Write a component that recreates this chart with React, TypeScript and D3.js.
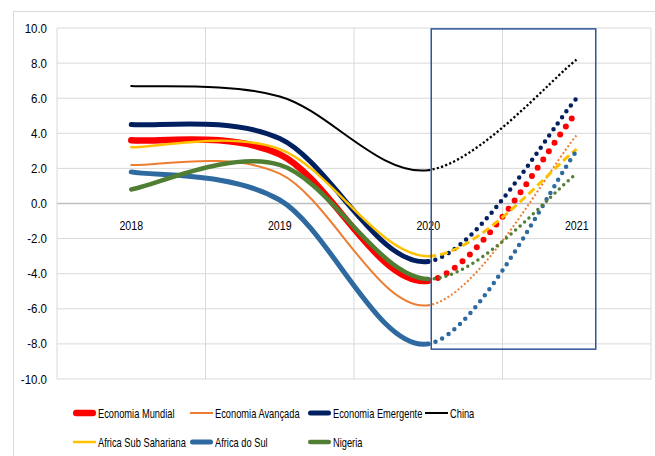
import React from 'react';
import * as d3 from 'd3';

// categories and values (% growth)
const years = ['2018', '2019', '2020', '2021'];
const yTicks = [-10, -8, -6, -4, -2, 0, 2, 4, 6, 8, 10];

const economiaMundial = [3.6, 2.8, -4.4, 5.2];
const economiaAvancada = [2.2, 1.7, -5.8, 3.9];
const economiaEmergente = [4.5, 3.7, -3.3, 6.0];
const china = [6.7, 6.1, 1.9, 8.2];
const africaSubSahariana = [3.2, 3.1, -3.0, 3.1];
const africaDoSul = [1.8, 0.2, -8.0, 3.0];
const nigeria = [0.8, 2.2, -4.3, 1.7];

const seriesNames = [
  'Economia Mundial',
  'Economia Avançada',
  'Economia Emergente',
  'China',
  'Africa Sub Sahariana',
  'Africa do Sul',
  'Nigeria',
];
const seriesValues = [
  economiaMundial,
  economiaAvancada,
  economiaEmergente,
  china,
  africaSubSahariana,
  africaDoSul,
  nigeria,
];

// line styles: solid part, then the projected (dotted) part
const styles = [
  { color: '#FF0000', width: 6.5, dotWidth: 6, dash: '0 10', cap: 'round' },
  { color: '#ED7D31', width: 2, dotWidth: 2, dash: '2 2.2', cap: 'butt' },
  { color: '#002060', width: 5, dotWidth: 4.5, dash: '0 7.4', cap: 'round' },
  { color: '#000000', width: 2, dotWidth: 2.3, dash: '2.2 2.2', cap: 'butt' },
  { color: '#FFC000', width: 2.5, dotWidth: 3, dash: '8 4', cap: 'butt' },
  { color: '#2E6AA0', width: 5, dotWidth: 4.5, dash: '0 7.6', cap: 'round' },
  { color: '#507E32', width: 4.5, dotWidth: 3.5, dash: '0 6', cap: 'round' },
];

const W = 655;
const H = 456;
const FONT = "'Liberation Sans', Arial, sans-serif";

const x = d3.scaleBand<string>().domain(years).range([57, 651]);
const cx = (yr: string) => (x(yr) as number) + x.bandwidth() / 2;
const y = d3.scaleLinear().domain([-10, 10]).range([379, 28]);

type Pt = [number, number];

// cardinal (tension 0) bezier pieces, same control points as d3.curveCardinal,
// split so the 2020-2021 piece can be styled on its own
function segPath(pts: Pt[], from: number, to: number) {
  const n = pts.length;
  const at = (i: number) => pts[Math.max(0, Math.min(n - 1, i))];
  const p = d3.path();
  p.moveTo(pts[from][0], pts[from][1]);
  for (let i = from; i < to; i++) {
    const p0 = at(i - 1), p1 = at(i), p2 = at(i + 1), p3 = at(i + 2);
    p.bezierCurveTo(
      p1[0] + (p2[0] - p0[0]) / 6,
      p1[1] + (p2[1] - p0[1]) / 6,
      p2[0] - (p3[0] - p1[0]) / 6,
      p2[1] - (p3[1] - p1[1]) / 6,
      p2[0],
      p2[1]
    );
  }
  return p.toString();
}

const legendCols = [73, 190, 308, 425];
const legendRows = [413, 442];

export default function App() {
  const [xl, xr] = x.range();
  const [yb, yt] = y.range();
  const boundaries = years.map((d) => x(d) as number).concat([xr]);

  return (
    <div style={{ position: 'absolute', left: 0, top: 0 }}>
      <svg width={W} height={H} style={{ display: 'block', background: '#fff' }}>
        {/* chart border */}
        <rect x={13.5} y={11.5} width={W + 20} height={H + 20} fill="none" stroke="#D9D9D9" />

        {/* gridlines */}
        {yTicks.map((v) => (
          <line key={'h' + v} x1={xl} x2={xr} y1={y(v)} y2={y(v)} stroke={v === 0 ? '#BFBFBF' : '#D9D9D9'} strokeWidth={v === 0 ? 1.3 : 1} />
        ))}
        {boundaries.map((bx, i) => (
          <line key={'v' + i} x1={bx} x2={bx} y1={yt} y2={yb} stroke="#D9D9D9" />
        ))}

        {/* y tick labels */}
        {yTicks.map((v) => (
          <text
            key={'t' + v}
            transform={`translate(47,${y(v)}) scale(0.92,1)`}
            dy="0.36em"
            textAnchor="end"
            fontFamily={FONT}
            fontSize={12.5}
            fill="#000"
          >
            {v.toFixed(1)}
          </text>
        ))}

        {/* category labels */}
        {years.map((d) => (
          <text
            key={'c' + d}
            transform={`translate(${cx(d)},230) scale(0.85,1)`}
            textAnchor="middle"
            fontFamily={FONT}
            fontSize={12.5}
            fill="#000"
          >
            {d}
          </text>
        ))}

        {/* series */}
        {seriesValues.map((vals, si) => {
          const pts: Pt[] = vals.map((v, i) => [cx(years[i]), y(v)]);
          const st = styles[si];
          return (
            <g key={'s' + si}>
              <path d={segPath(pts, 0, 2)} fill="none" stroke={st.color} strokeWidth={st.width} strokeLinecap="round" />
              <path
                d={segPath(pts, 2, 3)}
                fill="none"
                stroke={st.color}
                strokeWidth={st.dotWidth}
                strokeDasharray={st.dash}
                strokeLinecap={st.cap as any}
              />
            </g>
          );
        })}

        {/* projection box */}
        <rect
          x={cx('2020') + 3}
          y={y(9.95)}
          width={cx('2021') + 19 - (cx('2020') + 3)}
          height={y(-8.3) - y(9.95)}
          fill="none"
          stroke="#2F5597"
          strokeWidth={1.5}
        />

        {/* legend */}
        {seriesNames.map((name, i) => {
          const col = i < 4 ? i : i - 4;
          const row = i < 4 ? 0 : 1;
          const lx = legendCols[col];
          const ly = legendRows[row];
          const st = styles[i];
          const round = st.width > 3;
          return (
            <g key={'l' + i}>
              <line
                x1={round ? lx + st.width / 2 : lx}
                x2={round ? lx + 23 - st.width / 2 : lx + 23}
                y1={ly}
                y2={ly}
                stroke={st.color}
                strokeWidth={st.width}
                strokeLinecap={round ? 'round' : 'butt'}
              />
              <text
                transform={`translate(${lx + 25},${ly}) scale(0.715,1)`}
                dy="0.36em"
                fontFamily={FONT}
                fontSize={13}
                fill="#000"
              >
                {name}
              </text>
            </g>
          );
        })}
      </svg>
    </div>
  );
}
